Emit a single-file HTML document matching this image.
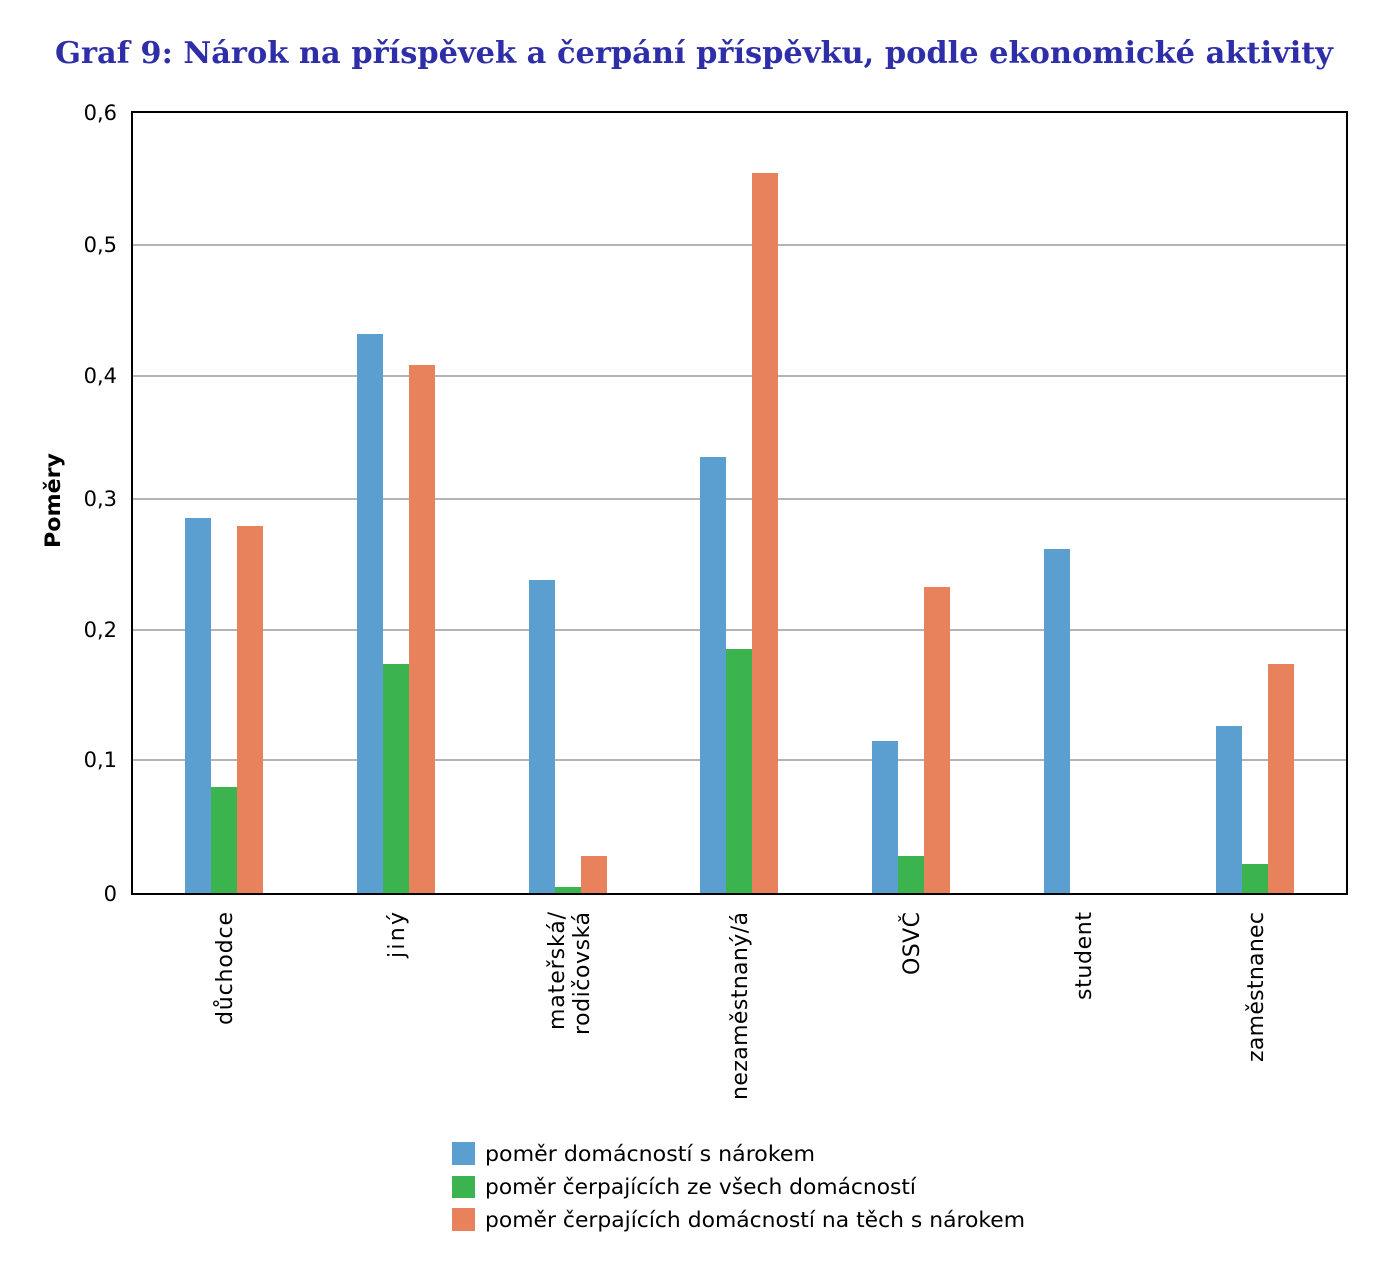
<!DOCTYPE html>
<html><head><meta charset="utf-8"><style>body{margin:0;background:#fff}svg{display:block}</style></head><body>
<svg width="1387" height="1273" viewBox="0 0 1387 1273" xmlns="http://www.w3.org/2000/svg" font-family="'DejaVu Sans', sans-serif">
<text x="55" y="63" font-family="'DejaVu Serif', serif" font-weight="bold" font-size="30" fill="#2e2ea8" textLength="1278" lengthAdjust="spacingAndGlyphs">Graf 9: Nárok na příspěvek a čerpání příspěvku, podle ekonomické aktivity</text>
<g stroke="#888" stroke-width="1.2">
<line x1="133" x2="1347" y1="245" y2="245"/><line x1="133" x2="1347" y1="376" y2="376"/><line x1="133" x2="1347" y1="499" y2="499"/><line x1="133" x2="1347" y1="630" y2="630"/><line x1="133" x2="1347" y1="760" y2="760"/>
</g>
<g font-size="21" text-anchor="end" fill="#000">
<text x="117" y="120">0,6</text><text x="117" y="252">0,5</text><text x="117" y="383">0,4</text><text x="117" y="506">0,3</text><text x="117" y="637">0,2</text><text x="117" y="767">0,1</text><text x="117" y="901">0</text>
</g>
<text transform="translate(60,548) rotate(-90)" font-size="21" font-weight="bold" textLength="95" lengthAdjust="spacingAndGlyphs">Poměry</text>
<g fill="#5b9fd0">
<rect x="185" y="518" width="26" height="376"/><rect x="357" y="334" width="26" height="560"/><rect x="529" y="580" width="26" height="314"/><rect x="700" y="457" width="26" height="437"/><rect x="872" y="741" width="26" height="153"/><rect x="1044" y="549" width="26" height="345"/><rect x="1216" y="726" width="26" height="168"/>
</g>
<g fill="#3bb44f">
<rect x="211" y="787" width="26" height="107"/><rect x="383" y="664" width="26" height="230"/><rect x="555" y="887" width="26" height="7"/><rect x="726" y="649" width="26" height="245"/><rect x="898" y="856" width="26" height="38"/><rect x="1242" y="864" width="26" height="30"/>
</g>
<g fill="#e8825c">
<rect x="237" y="526" width="26" height="368"/><rect x="409" y="365" width="26" height="529"/><rect x="581" y="856" width="26" height="38"/><rect x="752" y="173" width="26" height="721"/><rect x="924" y="587" width="26" height="307"/><rect x="1268" y="664" width="26" height="230"/>
</g>
<rect x="132" y="112" width="1215" height="782" fill="none" stroke="#000" stroke-width="2"/>
<g font-size="22" fill="#000" lengthAdjust="spacingAndGlyphs">
<text transform="translate(232,1025) rotate(-90)" textLength="113">důchodce</text>
<text transform="translate(404,958) rotate(-90)" textLength="46">jiný</text>
<text transform="translate(564,1030) rotate(-90)" textLength="118">mateřská/</text>
<text transform="translate(589,1035) rotate(-90)" textLength="123">rodičovská</text>
<text transform="translate(747,1100) rotate(-90)" textLength="188">nezaměstnaný/á</text>
<text transform="translate(919,975) rotate(-90)" textLength="63">OSVČ</text>
<text transform="translate(1091,1000) rotate(-90)" textLength="88">student</text>
<text transform="translate(1263,1062) rotate(-90)" textLength="150">zaměstnanec</text>
</g>
<rect x="452" y="1142" width="23" height="23" fill="#5b9fd0"/>
<rect x="452" y="1176" width="23" height="22" fill="#3bb44f"/>
<rect x="452" y="1208" width="23" height="23" fill="#e8825c"/>
<g font-size="21" fill="#000">
<text x="485" y="1161" textLength="330" lengthAdjust="spacingAndGlyphs">poměr domácností s nárokem</text>
<text x="485" y="1194" textLength="431" lengthAdjust="spacingAndGlyphs">poměr čerpajících ze všech domácností</text>
<text x="485" y="1227" textLength="540" lengthAdjust="spacingAndGlyphs">poměr čerpajících domácností na těch s nárokem</text>
</g>
</svg>
</body></html>
